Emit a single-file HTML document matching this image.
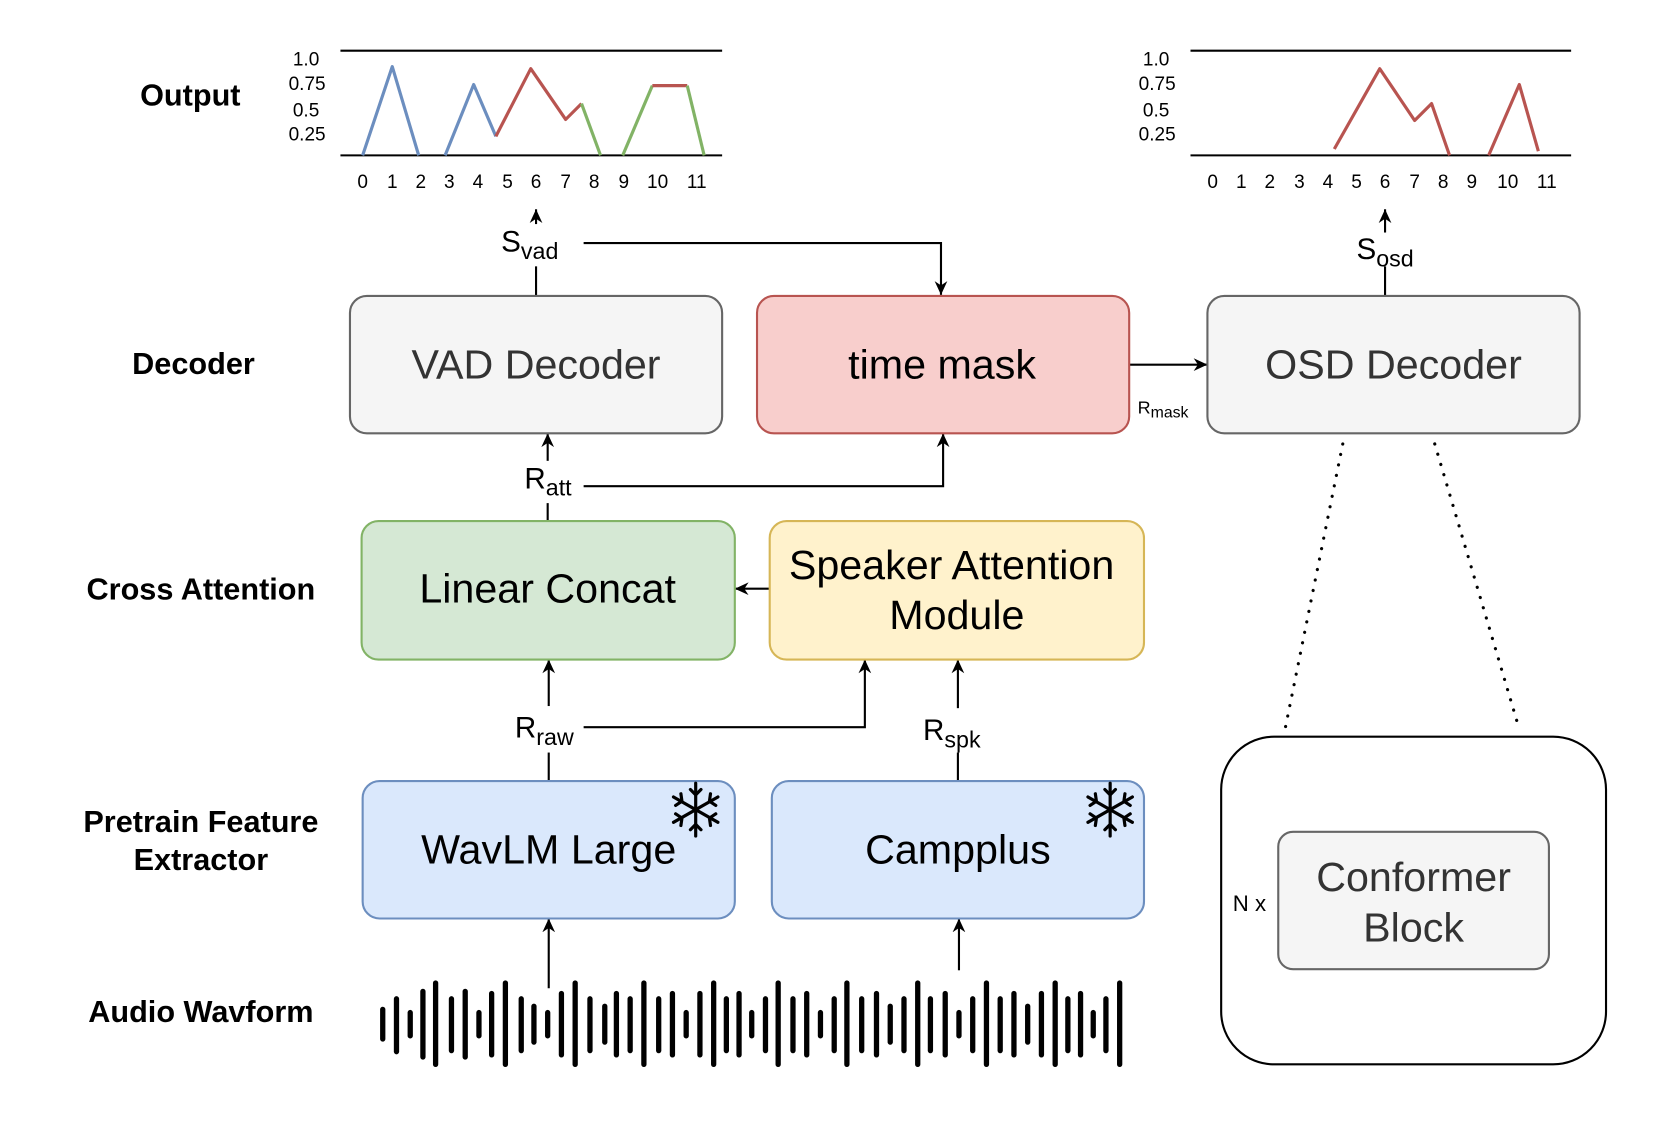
<!DOCTYPE html>
<html><head><meta charset="utf-8"><style>
html,body{margin:0;padding:0;background:#fff;}
svg{display:block;}
text{font-family:"Liberation Sans",Arial,sans-serif;}
</style></head><body>
<svg width="1661" height="1132" viewBox="0 0 1571 1071" preserveAspectRatio="none" xmlns="http://www.w3.org/2000/svg">
<defs>
<marker id="ah" markerWidth="14" markerHeight="14" refX="13" refY="7" orient="auto" markerUnits="userSpaceOnUse">
<path d="M0,1 L13,7 L0,13 L4,7 Z" fill="#000"/>
</marker>
</defs>
<rect width="1571" height="1071" fill="#fff"/>

<g font-weight="bold" font-size="29" text-anchor="middle" fill="#000">
<text x="180" y="100">Output</text>
<text x="183" y="354">Decoder</text>
<text x="190" y="567">Cross Attention</text>
<text x="190" y="787">Pretrain Feature</text>
<text x="190" y="823">Extractor</text>
<text x="190" y="967">Audio Wavform</text>
</g>

<g stroke="#000" stroke-width="2"><line x1="322" y1="48" x2="683" y2="48"/><line x1="322" y1="147" x2="683" y2="147"/></g>
<g font-size="18" text-anchor="end" fill="#000">
<text x="302" y="62">1.0</text><text x="308" y="85">0.75</text><text x="302" y="110">0.5</text><text x="308" y="133">0.25</text>
</g>
<g font-size="18" text-anchor="middle" fill="#000">
<text x="343" y="178">0</text><text x="371" y="178">1</text><text x="398" y="178">2</text><text x="425" y="178">3</text><text x="452" y="178">4</text><text x="480" y="178">5</text><text x="507" y="178">6</text><text x="535" y="178">7</text><text x="562" y="178">8</text><text x="590" y="178">9</text><text x="622" y="178">10</text><text x="659" y="178">11</text>
</g>
<g fill="none" stroke-width="3" stroke-linejoin="round">
<polyline points="343,147 371,63 396,147" stroke="#6c8ebf"/>
<polyline points="421,147 448,80 469,129" stroke="#6c8ebf"/>
<polyline points="469,129 502,65 535,113 550,98" stroke="#b85450"/>
<polyline points="550,98 568,147" stroke="#82b366"/>
<polyline points="589,147 617,81" stroke="#82b366"/>
<polyline points="617,81 650,81" stroke="#b85450"/>
<polyline points="650,81 666,147" stroke="#82b366"/>
</g>

<g stroke="#000" stroke-width="2"><line x1="1126" y1="48" x2="1486" y2="48"/><line x1="1126" y1="147" x2="1486" y2="147"/></g>
<g font-size="18" text-anchor="end" fill="#000">
<text x="1106" y="62">1.0</text><text x="1112" y="85">0.75</text><text x="1106" y="110">0.5</text><text x="1112" y="133">0.25</text>
</g>
<g font-size="18" text-anchor="middle" fill="#000">
<text x="1147" y="178">0</text><text x="1174" y="178">1</text><text x="1201" y="178">2</text><text x="1229" y="178">3</text><text x="1256" y="178">4</text><text x="1283" y="178">5</text><text x="1310" y="178">6</text><text x="1338" y="178">7</text><text x="1365" y="178">8</text><text x="1392" y="178">9</text><text x="1426" y="178">10</text><text x="1463" y="178">11</text>
</g>
<g fill="none" stroke="#b85450" stroke-width="3" stroke-linejoin="round">
<polyline points="1262,141 1305,65 1338,114 1354,98 1371,147"/>
<polyline points="1408,147 1437,80 1455,143"/>
</g>

<g stroke="#000" stroke-width="2" fill="none">
<line x1="507" y1="212" x2="507" y2="198" marker-end="url(#ah)"/>
<line x1="507" y1="252" x2="507" y2="280"/>
<polyline points="552,230 890,230 890,279" marker-end="url(#ah)"/>
<line x1="1068" y1="345" x2="1142" y2="345" marker-end="url(#ah)"/>
<line x1="1310" y1="220" x2="1310" y2="198" marker-end="url(#ah)"/>
<line x1="1310" y1="252" x2="1310" y2="281"/>
<line x1="518" y1="436" x2="518" y2="410" marker-end="url(#ah)"/>
<line x1="518" y1="476" x2="518" y2="493"/>
<polyline points="552,460 892,460 892,410" marker-end="url(#ah)"/>
<line x1="728" y1="557" x2="695" y2="557" marker-end="url(#ah)"/>
<line x1="519" y1="668" x2="519" y2="624" marker-end="url(#ah)"/>
<line x1="519" y1="712" x2="519" y2="739"/>
<polyline points="552,688 818,688 818,624" marker-end="url(#ah)"/>
<line x1="906" y1="670" x2="906" y2="624" marker-end="url(#ah)"/>
<line x1="906" y1="712" x2="906" y2="739"/>
<line x1="519" y1="935" x2="519" y2="869" marker-end="url(#ah)"/>
<line x1="907" y1="918" x2="907" y2="869" marker-end="url(#ah)"/>
</g>

<g font-size="28" fill="#000">
<text x="474" y="238">S<tspan font-size="22" dy="7">vad</tspan></text>
<text x="1283" y="245">S<tspan font-size="22" dy="7">osd</tspan></text>
<text x="496" y="462">R<tspan font-size="22" dy="7">att</tspan></text>
<text x="487" y="698">R<tspan font-size="22" dy="7">raw</tspan></text>
<text x="873" y="700">R<tspan font-size="22" dy="7">spk</tspan></text>
<text x="1076" y="391" font-size="17">R<tspan font-size="15" dy="4">mask</tspan></text>
</g>

<rect x="331" y="280" width="352" height="130" rx="16" fill="#f5f5f5" stroke="#666" stroke-width="2"/>
<text x="507" y="358" font-size="39" text-anchor="middle" fill="#333">VAD Decoder</text>
<rect x="716" y="280" width="352" height="130" rx="16" fill="#f8cecc" stroke="#b85450" stroke-width="2"/>
<text x="891" y="358" font-size="39" text-anchor="middle" fill="#000">time mask</text>
<rect x="1142" y="280" width="352" height="130" rx="16" fill="#f5f5f5" stroke="#666" stroke-width="2"/>
<text x="1318" y="358" font-size="39" text-anchor="middle" fill="#333">OSD Decoder</text>

<rect x="342" y="493" width="353" height="131" rx="16" fill="#d5e8d4" stroke="#82b366" stroke-width="2"/>
<text x="518" y="570" font-size="39" text-anchor="middle" fill="#000">Linear Concat</text>
<rect x="728" y="493" width="354" height="131" rx="16" fill="#fff2cc" stroke="#d6b656" stroke-width="2"/>
<text x="900" y="548" font-size="39" text-anchor="middle" fill="#000">Speaker Attention</text>
<text x="905" y="595" font-size="39" text-anchor="middle" fill="#000">Module</text>

<rect x="343" y="739" width="352" height="130" rx="16" fill="#dae8fc" stroke="#6c8ebf" stroke-width="2"/>
<text x="519" y="817" font-size="39" text-anchor="middle" fill="#000">WavLM Large</text>
<rect x="730" y="739" width="352" height="130" rx="16" fill="#dae8fc" stroke="#6c8ebf" stroke-width="2"/>
<text x="906" y="817" font-size="39" text-anchor="middle" fill="#000">Campplus</text>

<g stroke="#000" stroke-width="3" fill="none" stroke-linecap="round">
<g transform="translate(658,766)">
<line x1="0" y1="-25" x2="0" y2="25"/><line x1="-21" y1="-12" x2="21" y2="12"/><line x1="-21" y1="12" x2="21" y2="-12"/>
<polyline points="-5,-19 0,-14 5,-19"/><polyline points="-5,19 0,14 5,19"/>
<polyline points="-19,-4 -13,-8 -14,-15"/><polyline points="19,4 13,8 14,15"/>
<polyline points="-19,4 -13,8 -14,15"/><polyline points="19,-4 13,-8 14,-15"/>
</g>
<g transform="translate(1050,766)">
<line x1="0" y1="-25" x2="0" y2="25"/><line x1="-21" y1="-12" x2="21" y2="12"/><line x1="-21" y1="12" x2="21" y2="-12"/>
<polyline points="-5,-19 0,-14 5,-19"/><polyline points="-5,19 0,14 5,19"/>
<polyline points="-19,-4 -13,-8 -14,-15"/><polyline points="19,4 13,8 14,15"/>
<polyline points="-19,4 -13,8 -14,15"/><polyline points="19,-4 13,-8 14,-15"/>
</g>
</g>

<g stroke="#000" stroke-width="5" stroke-linecap="round">
<line x1="362" y1="955" x2="362" y2="983"/>
<line x1="375" y1="945" x2="375" y2="995"/>
<line x1="388" y1="958" x2="388" y2="980"/>
<line x1="400" y1="938" x2="400" y2="1000"/>
<line x1="412" y1="930" x2="412" y2="1007"/>
<line x1="427" y1="945" x2="427" y2="994"/>
<line x1="440" y1="938" x2="440" y2="1000"/>
<line x1="453" y1="958" x2="453" y2="980"/>
<line x1="465" y1="940" x2="465" y2="998"/>
<line x1="478" y1="930" x2="478" y2="1007"/>
<line x1="493" y1="945" x2="493" y2="994"/>
<line x1="505" y1="952" x2="505" y2="986"/>
<line x1="518" y1="958" x2="518" y2="980"/>
<line x1="531" y1="940" x2="531" y2="998"/>
<line x1="544" y1="930" x2="544" y2="1007"/>
<line x1="558" y1="945" x2="558" y2="994"/>
<line x1="572" y1="952" x2="572" y2="986"/>
<line x1="583" y1="940" x2="583" y2="998"/>
<line x1="596" y1="945" x2="596" y2="994"/>
<line x1="609" y1="930" x2="609" y2="1007"/>
<line x1="623" y1="945" x2="623" y2="994"/>
<line x1="636" y1="940" x2="636" y2="998"/>
<line x1="649" y1="958" x2="649" y2="980"/>
<line x1="662" y1="940" x2="662" y2="998"/>
<line x1="675" y1="930" x2="675" y2="1007"/>
<line x1="687" y1="945" x2="687" y2="994"/>
<line x1="699" y1="940" x2="699" y2="998"/>
<line x1="711" y1="958" x2="711" y2="980"/>
<line x1="724" y1="945" x2="724" y2="994"/>
<line x1="736" y1="930" x2="736" y2="1007"/>
<line x1="750" y1="945" x2="750" y2="994"/>
<line x1="763" y1="940" x2="763" y2="998"/>
<line x1="776" y1="958" x2="776" y2="980"/>
<line x1="789" y1="945" x2="789" y2="994"/>
<line x1="801" y1="930" x2="801" y2="1007"/>
<line x1="815" y1="945" x2="815" y2="994"/>
<line x1="829" y1="940" x2="829" y2="998"/>
<line x1="842" y1="952" x2="842" y2="986"/>
<line x1="855" y1="945" x2="855" y2="994"/>
<line x1="868" y1="930" x2="868" y2="1007"/>
<line x1="880" y1="945" x2="880" y2="994"/>
<line x1="894" y1="940" x2="894" y2="998"/>
<line x1="907" y1="958" x2="907" y2="980"/>
<line x1="920" y1="945" x2="920" y2="994"/>
<line x1="933" y1="930" x2="933" y2="1007"/>
<line x1="946" y1="945" x2="946" y2="994"/>
<line x1="959" y1="940" x2="959" y2="998"/>
<line x1="972" y1="952" x2="972" y2="986"/>
<line x1="985" y1="940" x2="985" y2="998"/>
<line x1="998" y1="930" x2="998" y2="1007"/>
<line x1="1010" y1="945" x2="1010" y2="994"/>
<line x1="1022" y1="940" x2="1022" y2="998"/>
<line x1="1034" y1="958" x2="1034" y2="980"/>
<line x1="1046" y1="945" x2="1046" y2="994"/>
<line x1="1059" y1="930" x2="1059" y2="1007"/>
</g>

<g stroke="#000" stroke-width="3" stroke-linecap="round" stroke-dasharray="0.1 10" fill="none">
<line x1="1270" y1="420" x2="1215" y2="692"/>
<line x1="1357" y1="420" x2="1437" y2="690"/>
</g>

<rect x="1155" y="697" width="364" height="310" rx="50" fill="#fff" stroke="#000" stroke-width="2"/>
<rect x="1209" y="787" width="256" height="130" rx="14" fill="#f5f5f5" stroke="#666" stroke-width="2"/>
<text x="1337" y="843" font-size="39" text-anchor="middle" fill="#333">Conformer</text>
<text x="1337" y="891" font-size="39" text-anchor="middle" fill="#333">Block</text>
<text x="1166" y="862" font-size="21" fill="#000">N x</text>
</svg>
</body></html>
